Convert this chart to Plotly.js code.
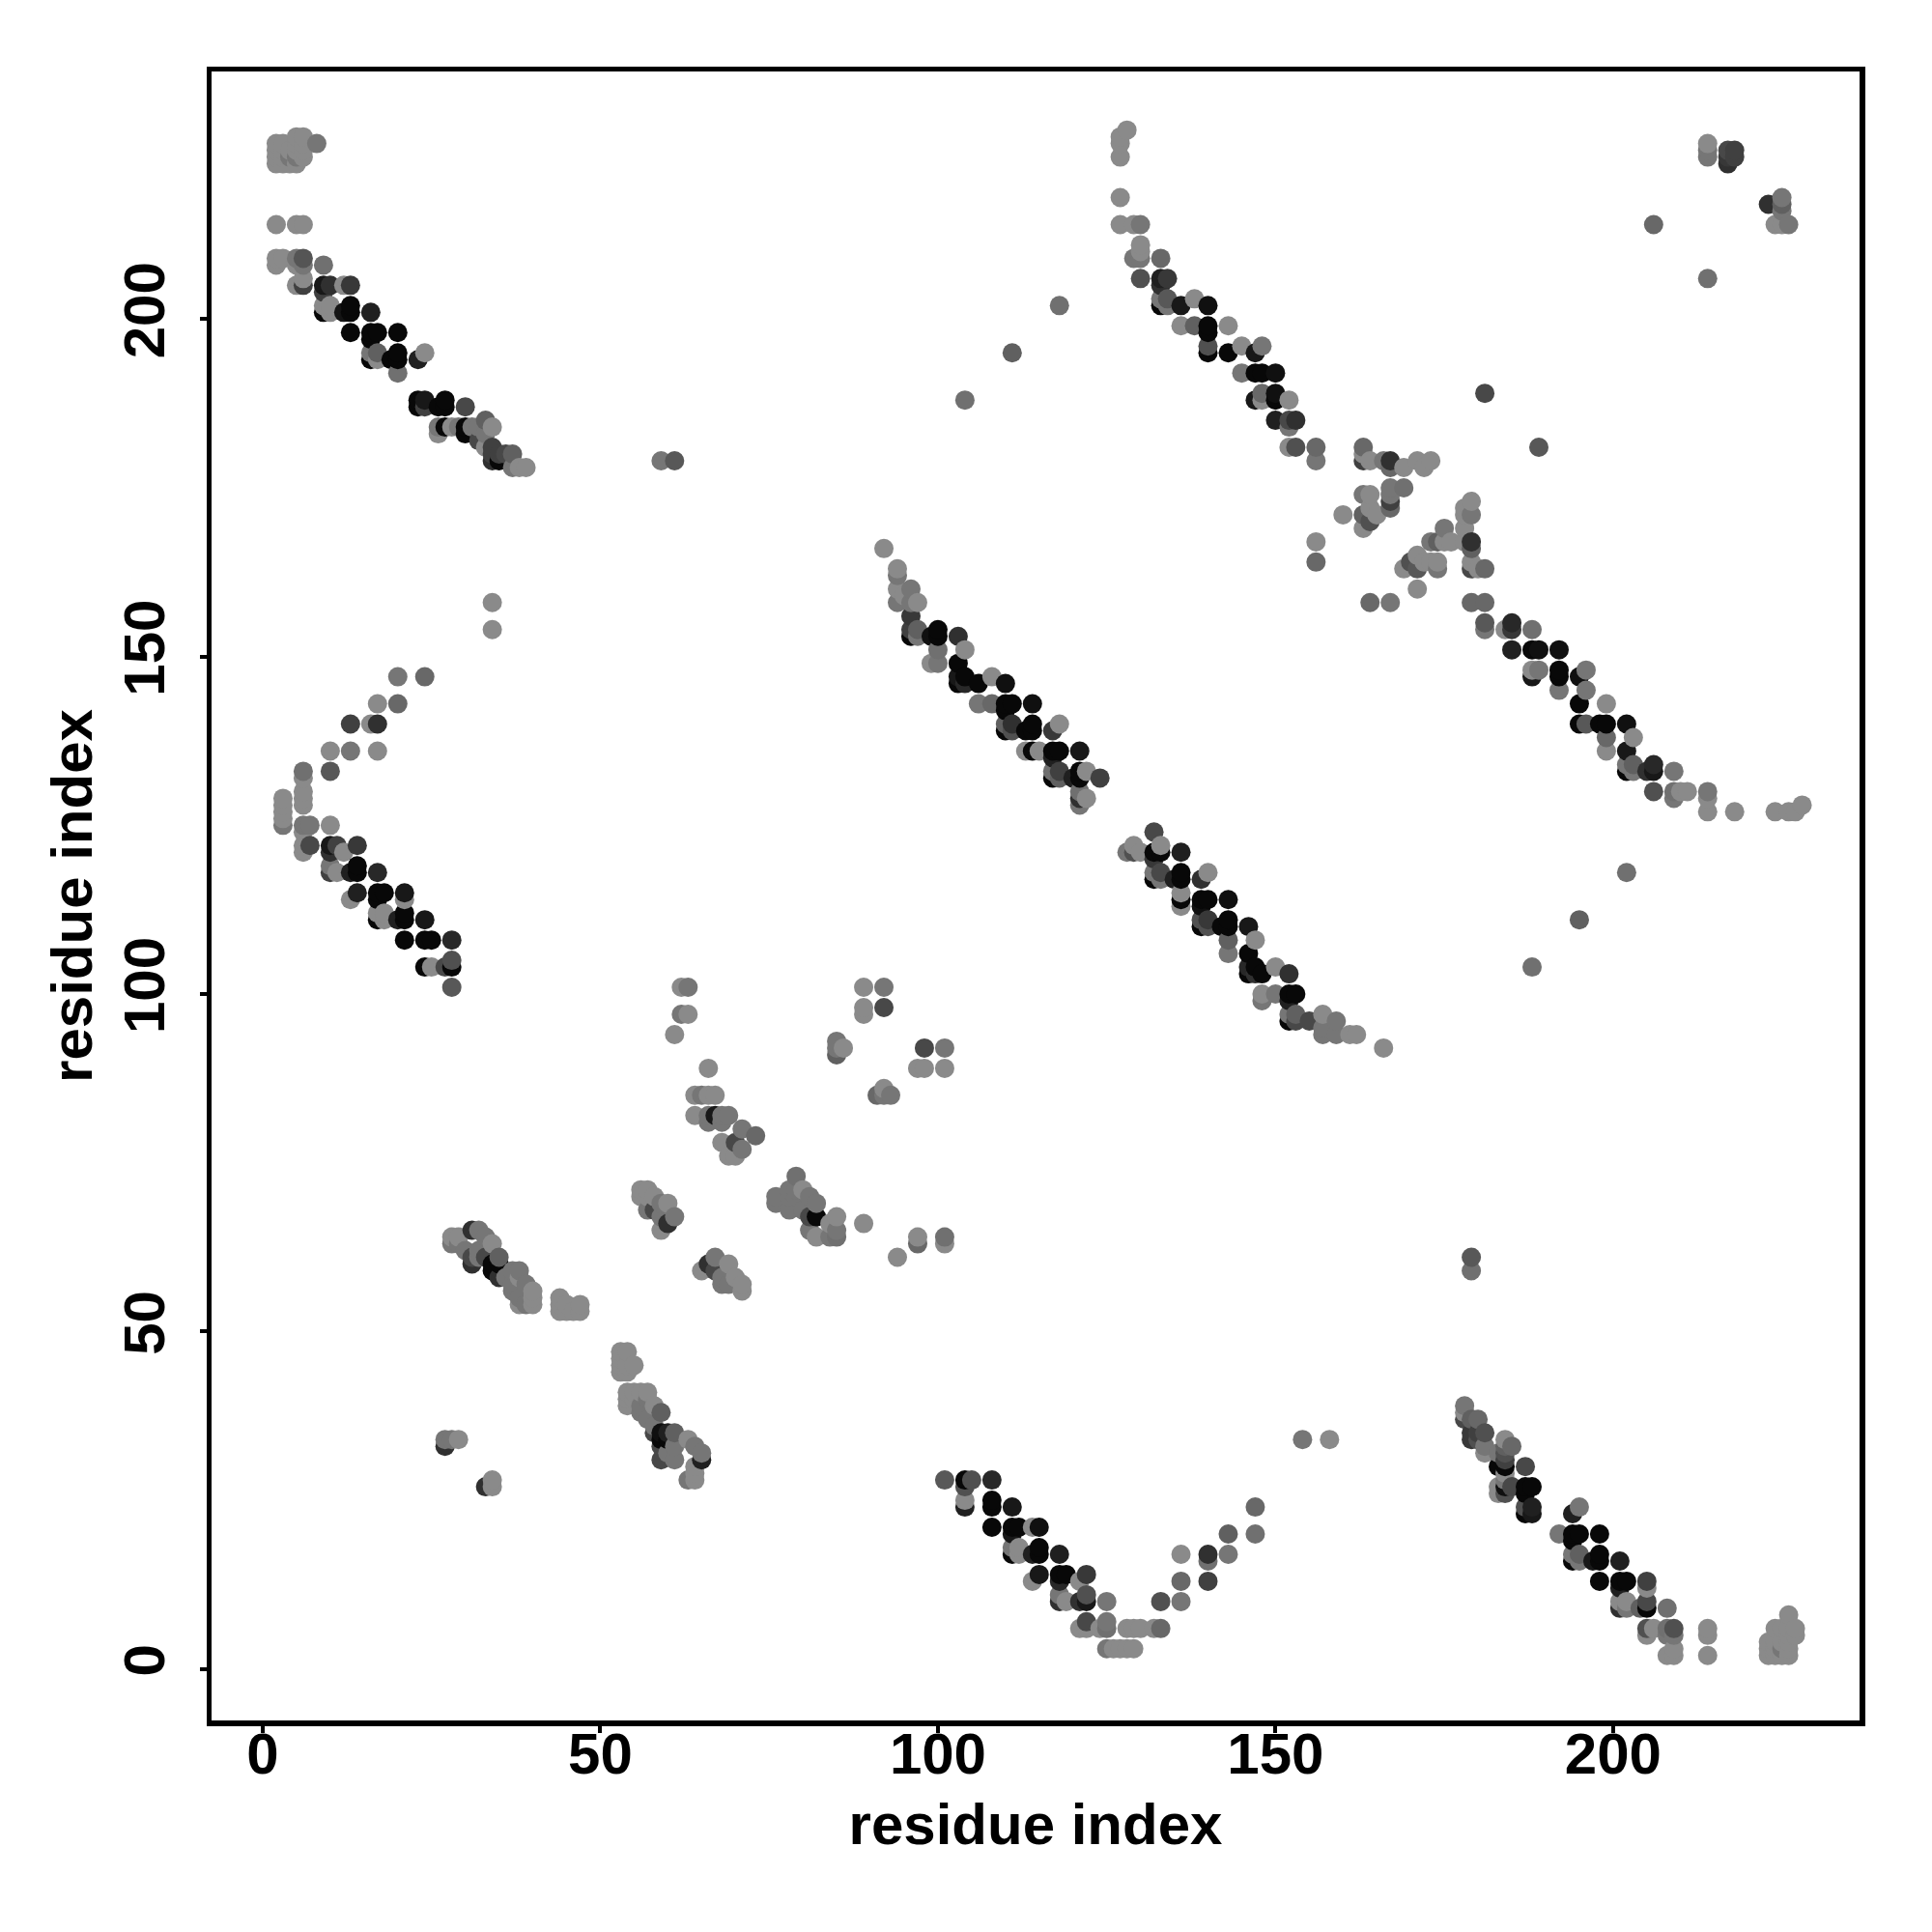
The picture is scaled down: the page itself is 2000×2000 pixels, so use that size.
<!DOCTYPE html>
<html><head><meta charset="utf-8">
<script src="https://cdn.plot.ly/plotly-3.0.1.min.js"></script>
<style>html,body{margin:0;padding:0;background:#fff}</style></head>
<body><div id="chart" style="width:2000px;height:2000px"></div>
<script>
const L=138,M=118,K=8;
const tickValues=[0,50,100,150,200];
const axisLabel="residue index";
// each contact: [residue x, residue y, grey level]
const topLeftBand=[[2,223,L],[2,224,L],[2,225,L],[2,226,L],[3,223,L],[3,224,L],[3,225,L],[3,226,L],[4,223,L],[4,224,M],[4,225,L],[5,223,L],[5,224,M],[5,225,L],[5,226,L],[5,227,L],[6,224,L],[6,225,L],[6,226,L],[6,227,L],[8,226,M],
[2,214,L],[5,214,L],[6,214,L],[2,209,L],[3,209,L],[2,208,L],[5,209,M],[6,209,85],[6,208,M],[5,208,L],[9,208,112],[6,206,L],[5,205,L],[6,205,64],[9,205,24],[10,205,48],[12,205,L],[13,205,56],[9,204,64],
[13,202,K],[13,201,K],[12,201,20],[16,201,32],[9,201,K],[9,202,L],[10,202,L],[10,201,L],[13,198,K],[16,198,K],[17,198,K],[20,198,K],[16,197,K],[16,195,M],[17,195,96],[16,194,K],[17,194,L],[19,194,K],[20,195,K],[20,194,K],[23,194,32],[24,195,L],[20,192,112],
[23,188,K],[24,188,24],[23,187,K],[24,187,64],[26,187,K],[27,188,K],[27,187,K],[30,187,72],[26,184,M],[26,183,L],[27,184,K],[28,184,L],[29,184,M],[30,184,K],[30,183,K],[31,184,M],[32,184,M],[33,185,96],[34,184,L],[33,183,M],[32,182,72],[33,181,L],[34,181,64],[34,180,64],[34,179,48],[35,180,64],[36,180,72],[35,179,K],[37,180,96],[37,178,M],[38,178,L],[39,178,L],[59,179,M],[61,179,88]];
const leftArc=[[34,158,L],[34,154,L],[20,147,M],[24,147,104],[17,143,L],[20,143,104],[13,140,64],[16,140,L],[17,140,48],[10,136,L],[13,136,M],[17,136,L],[6,133,112],[10,133,88],[6,132,L],
[3,129,L],[3,128,L],[3,127,L],[3,126,L],[3,125,M],[6,130,L],[6,129,L],[6,128,L],[6,125,M],[7,125,M],[10,125,L],[6,124,L],[6,122,L],[7,122,72],[10,122,24],[11,122,64],[14,122,56],[12,121,L],[6,121,L],[10,121,48],
[14,119,K],[14,118,K],[13,118,32],[10,119,M],[10,118,64],[11,118,L],[17,118,40],[14,115,32],[17,115,K],[18,115,K],[17,114,K],[21,115,24],[21,114,L],[13,114,L],[21,112,K],[21,111,K],[20,111,32],[17,112,L],[18,112,L],[17,111,K],[18,111,L],[24,111,24],
[21,108,K],[24,108,K],[25,108,K],[28,108,40],[24,104,K],[25,104,L],[27,104,72],[28,104,K],[28,105,80],[28,101,88]];
const strandLower=[[28,64,L],[29,64,L],[28,63,M],[29,63,M],[31,65,48],[32,65,M],[33,64,M],[34,63,L],[31,60,48],[30,62,M],[31,61,72],[32,62,M],[32,61,M],[33,61,72],[34,60,K],[34,59,K],[35,61,96],[35,60,K],[35,58,48],[37,59,M],[38,59,M],[36,58,M],[37,57,M],[38,58,L],[39,57,M],[40,56,L],[40,55,L],[40,54,L],[37,56,M],[38,55,M],[39,54,M],[38,54,L],
[44,55,L],[44,54,L],[44,53,L],[45,54,L],[45,53,L],[46,53,L],[47,54,L],[47,53,L],[53,47,L],[54,47,L],[53,46,L],[53,45,L],[53,44,L],[54,44,L],[54,45,L],[55,45,L],
[54,41,L],[54,40,L],[54,39,L],[55,41,L],[55,40,L],[56,41,L],[56,39,M],[56,38,M],[57,41,L],[57,40,M],[58,39,L],[59,38,96],[57,37,M],[58,36,M],[58,35,72],[59,35,16],[60,35,32],[59,34,K],[61,35,96],[60,34,K],[59,33,72],[59,31,72],[60,32,M],[61,31,M],[61,33,M],[63,34,L],[64,33,M],[65,32,M],[65,31,32],[64,30,L],[64,29,L],[64,28,L],[63,28,M],
[27,34,M],[28,34,M],[29,34,L],[27,33,48],[33,27,48],[34,28,L],[34,27,L]];
const centreClusters=[[62,101,L],[63,101,M],[62,97,M],[63,97,L],[61,94,L],[66,89,L],[64,85,L],[65,85,M],[66,85,L],[67,85,L],[64,82,L],[66,82,M],[67,82,24],[68,82,M],[69,82,M],[66,81,M],[68,81,M],[71,80,M],[73,79,104],[68,78,L],[70,78,72],[71,77,M],[69,76,L],[70,76,L],
[79,73,112],[76,70,M],[76,69,M],[78,71,M],[78,70,M],[78,68,M],[79,71,M],[79,70,M],[80,71,L],[81,70,M],[82,69,M],[82,67,K],[81,67,72],[80,68,M],[82,64,L],[81,65,M],[85,67,L],[85,65,M],[85,64,112],[84,66,L],[84,64,M],[89,66,L],[94,61,L],[97,64,L],[97,63,104],[101,64,112],[101,63,L],
[89,101,L],[92,101,M],[89,98,L],[92,98,72],[89,97,L],[85,93,M],[85,92,M],[85,91,96],[86,92,L],[98,92,72],[101,92,M],[97,89,L],[98,89,L],[101,89,L],[92,86,L],[91,85,104],[92,85,M],[93,85,M],
[56,71,L],[57,71,L],[56,70,L],[57,70,L],[57,68,M],[58,70,L],[59,69,M],[60,69,L],[59,67,M],[61,67,M],[60,66,48],[59,65,L],[58,68,72],
[65,59,L],[66,60,48],[67,61,M],[69,60,L],[68,58,M],[67,59,72],[70,58,L],[71,57,L],[69,57,M],[68,57,M],[71,56,L]];
const centreDiagonal=[[92,166,L],[94,163,L],[94,162,M],[94,160,L],[96,160,M],[95,159,L],[94,158,M],[97,158,L],[96,158,M],[96,156,56],[96,154,64],[96,153,K],[97,154,96],[97,153,M],[99,153,16],[100,154,K],[100,153,K],[103,153,48],[100,151,112],[104,151,L],[99,149,L],[100,149,M],[103,149,K],
[103,147,24],[103,146,K],[104,147,K],[104,146,40],[106,146,K],[108,147,L],[110,146,16],[106,143,M],[108,143,104],[110,143,K],[111,143,K],[114,143,16],[110,142,K],[110,140,96],[110,139,K],[111,140,48],[111,139,80],[113,139,K],[114,140,K],[114,139,K],[117,139,56],[118,140,L],
[113,136,L],[114,136,K],[115,136,L],[117,136,K],[118,136,K],[121,136,24],[117,135,32],[117,133,112],[117,132,K],[118,133,64],[118,132,96],[120,132,32],[121,133,K],[121,132,K],[122,133,L],[124,132,64],[121,130,112],[122,129,L],[121,129,48],[121,128,M],
[132,124,72],[128,121,M],[129,122,L],[130,121,L],[129,121,80],[132,121,K],[133,121,K],[133,122,L],[132,120,56],[136,121,32],[132,118,M],[132,117,K],[133,118,72],[133,117,M],[135,117,32],[136,118,K],[136,117,K],[139,117,48],[140,118,L],[136,115,L],[136,114,K],[136,113,L],
[139,114,K],[140,114,K],[139,113,16],[143,114,16],[139,111,80],[139,110,K],[140,111,56],[140,110,80],[142,110,K],[143,111,K],[143,110,K],[146,110,24],[147,108,L],[143,108,96],[143,106,M],[146,106,K],[146,104,40],[146,103,K],[147,104,K],[147,103,48],[148,103,K],[150,104,L],[152,103,48],
[148,100,L],[150,100,M],[152,100,K],[153,100,K],[148,99,M],[152,99,32],[152,97,M],[152,96,K],[153,97,96],[153,96,72],[155,96,72],[157,97,L],[159,96,M],[157,95,M],[157,94,M],[159,94,M],[161,94,L],[162,94,L],[166,92,L]];
const rightDiagonal=[[128,228,L],[127,227,L],[127,226,L],[127,224,L],[127,218,L],[127,214,L],[129,214,L],[130,214,M],[130,211,L],[130,210,L],[130,209,M],[129,209,M],[133,209,104],[130,206,80],[133,206,32],[134,206,56],[133,205,48],
[133,203,M],[133,202,K],[134,203,88],[134,202,M],[136,202,24],[138,203,L],[140,202,16],[136,199,L],[138,199,96],[140,199,K],[143,199,L],[140,198,K],[140,196,80],[140,195,K],[143,195,K],[145,196,L],[147,195,24],[148,196,M],
[145,192,M],[147,192,K],[148,192,K],[150,192,16],[147,188,24],[148,189,104],[148,188,L],[150,189,16],[150,188,K],[152,188,L],[150,185,32],[152,185,72],[153,185,48],[152,184,M],[152,181,L],[153,181,80],[156,181,104],[156,179,M],
[163,181,104],[163,180,L],[163,179,64],[164,179,L],[166,179,M],[167,179,48],[167,178,104],[169,178,L],[171,179,L],[172,178,L],[173,179,L],[167,175,M],[167,174,M],[167,173,64],[167,172,104],[169,175,112],[163,174,M],[164,174,L],
[160,171,L],[163,171,96],[164,172,L],[165,171,L],[164,170,80],[163,169,L],[156,167,L],[156,164,104],[164,158,104],[167,158,M],
[179,173,L],[178,172,L],[178,171,L],[179,171,M],[178,169,L],[175,169,M],[178,167,L],[179,167,48],[173,167,M],[174,167,96],[175,167,L],[176,167,L],[179,166,96],
[171,165,L],[170,164,80],[172,164,L],[174,164,L],[173,164,L],[171,163,88],[169,163,L],[174,163,M],[171,160,L],[179,164,L],[179,163,72],[180,163,L],[181,163,104],[179,158,104],[181,158,104],
[181,155,88],[181,154,M],[184,154,L],[185,155,40],[185,154,56],[188,154,112],[185,151,32],[188,151,K],[189,151,16],[192,151,16],[188,148,L],[188,147,24],[189,148,M],[192,148,K],[192,147,K],[195,147,16],[196,148,M],[192,145,M],[196,145,M],[195,143,K],[199,143,L],
[195,140,K],[196,140,88],[198,140,K],[199,140,K],[202,140,16],[199,138,104],[203,138,L],[199,136,L],[202,136,24],[202,134,M],[202,133,K],[203,134,96],[203,133,M],[205,133,48],[206,134,40],[206,133,24],[209,133,M],
[206,130,80],[209,130,112],[210,130,L],[211,130,L],[209,129,M],[214,130,M],[214,129,L],[214,127,L],[218,127,L],[224,127,L],[226,127,L],[227,127,L],[228,128,L]];
const scatteredContacts=[[118,202,112],[111,195,96],[104,188,112],[181,189,72],[189,181,88],[202,118,112],[195,111,96],[188,104,112],[206,214,104],[214,206,112],[214,226,L],[214,225,M],[214,224,M],[217,225,72],[218,225,64],[217,224,56],[218,224,64],[217,223,48],[223,217,48],[225,218,M],[225,217,96],[225,216,M],[224,214,L],[225,214,L],[226,214,M]];
const bottomMiddle=[[101,28,88],[104,28,K],[105,28,80],[108,28,40],[104,27,80],[104,25,L],[104,24,32],[108,25,K],[108,24,K],[111,24,24],[108,21,K],[111,21,K],[112,21,K],[114,21,L],[115,21,16],[111,20,24],[111,18,M],[111,17,K],[112,18,L],[112,17,L],[114,17,32],[115,18,K],[115,17,K],[118,17,32],
[115,14,24],[118,14,K],[119,14,K],[122,14,56],[114,13,L],[118,13,40],[121,13,L],[118,11,M],[118,10,48],[119,10,L],[121,10,48],[122,11,80],[122,10,24],[125,10,M],[121,6,L],[122,7,72],[122,6,L],[124,6,L],[125,7,M],[125,6,112],[128,6,L],[129,6,L],[130,6,L],[132,6,L],[133,6,104],
[125,3,M],[126,3,L],[127,3,L],[128,3,L],[129,3,L],[133,10,80],[136,10,M],[136,13,104],[140,13,64],[136,17,L],[140,17,48],[140,16,112],[143,17,M],[143,20,96],[147,20,112],[147,24,104],[154,34,M],[158,34,L],[179,61,88],[179,59,112]];
const bottomRight=[[178,39,M],[178,38,L],[178,37,72],[179,37,96],[180,37,104],[179,35,56],[179,34,56],[180,35,64],[181,35,80],[180,34,80],[181,33,M],[181,32,L],[183,32,M],[183,30,K],[184,34,L],[185,33,104],[184,33,96],[184,32,80],[184,31,64],[184,30,K],[184,29,L],[187,30,72],[184,28,M],
[183,27,L],[184,27,16],[185,27,72],[187,27,K],[188,27,K],[183,26,L],[184,26,80],[187,26,K],[187,24,80],[187,23,K],[188,24,32],[188,23,24],[195,24,M],[194,23,32],[192,20,M],[194,20,K],[195,20,K],[198,20,K],[194,19,K],[194,17,M],[194,16,K],[195,17,96],[195,16,M],[197,16,24],[198,17,K],[198,16,K],[201,16,32],
[198,13,K],[201,13,K],[202,13,K],[205,13,64],[201,12,32],[205,12,L],[201,10,L],[201,9,48],[202,10,L],[202,9,M],[204,9,96],[205,10,72],[205,9,K],[208,9,112],[205,6,80],[205,5,L],[206,6,L],[208,6,112],[209,6,80],[208,5,M],[209,5,M],[208,2,L],[209,3,L],[209,2,L],[214,6,L],[214,5,L],[214,2,L],
[223,4,L],[223,3,L],[223,2,L],[224,4,L],[224,3,L],[224,2,L],[225,4,L],[225,3,M],[225,2,L],[224,6,L],[225,6,L],[226,8,L],[226,6,L],[226,5,L],[226,4,L],[226,3,L],[226,2,L],[227,6,L],[227,5,L]];

const contacts=[...topLeftBand,...leftArc,...strandLower,...centreClusters,...centreDiagonal,...rightDiagonal,...scatteredContacts,...bottomMiddle,...bottomRight]
  .sort((a,b)=>a[0]-b[0]||a[1]-b[1]);

const axisBase={ticks:"outside",ticklen:7,tickwidth:4,tickcolor:"#000",showline:true,mirror:true,linecolor:"#000",linewidth:5.5,showgrid:false,zeroline:false,
  tickmode:"array",tickvals:tickValues,ticktext:tickValues.map(String),tickfont:{family:"Liberation Sans",size:60,color:"#000",weight:700}};
Plotly.newPlot("chart",[{type:"scatter",mode:"markers",x:contacts.map(c=>c[0]),y:contacts.map(c=>c[1]),
  marker:{size:20,line:{width:0},color:contacts.map(c=>`rgb(${c[2]},${c[2]},${c[2]})`)},hoverinfo:"x+y"}],
 {width:2000,height:2000,paper_bgcolor:"#fff",plot_bgcolor:"#fff",showlegend:false,
  margin:{l:219,r:75,t:74,b:218.5,pad:0},
  xaxis:{...axisBase,range:[-7.58,236.5],ticklabelstandoff:-30,title:{text:axisLabel,font:{family:"Liberation Sans",size:60,color:"#000",weight:700},standoff:21}},
  yaxis:{...axisBase,range:[-7.62,236.68],tickangle:-90,ticklabelstandoff:13,title:{text:axisLabel,font:{family:"Liberation Sans",size:60,color:"#000",weight:700},standoff:2}}
 },{displayModeBar:false,staticPlot:true});
</script></body></html>
